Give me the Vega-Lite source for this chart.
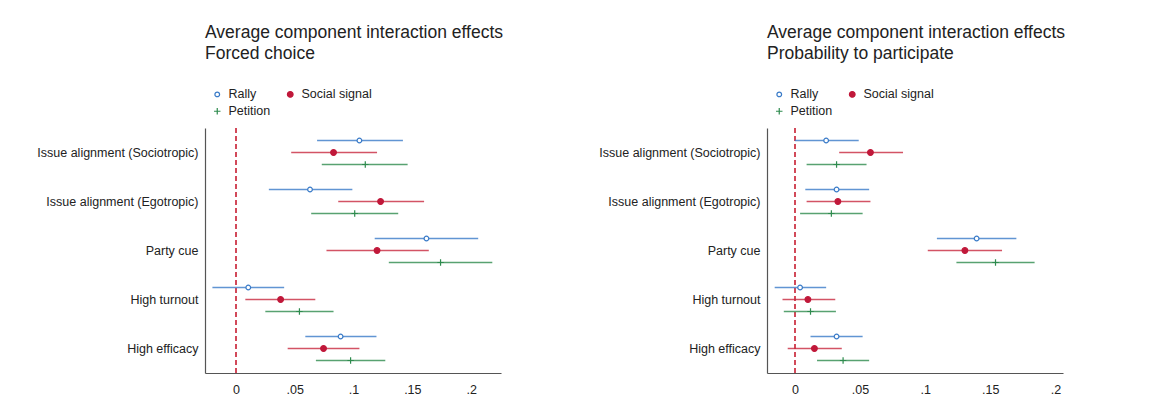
{
  "$schema": "https://vega.github.io/schema/vega-lite/v6.json",
  "background": "white",
  "padding": {"left": 36, "top": 23, "right": 5, "bottom": 5},
  "config": {
    "font": "Liberation Sans",
    "view": {"stroke": null},
    "axis": {
      "domainColor": "#555555",
      "domainWidth": 1.2,
      "ticks": false,
      "grid": false,
      "title": null,
      "labelFont": "Liberation Sans",
      "labelFontSize": 12.5,
      "labelColor": "#222222"
    },
    "axisY": {"labelPadding": 7},
    "axisX": {"labelPadding": 10},
    "legend": {
      "orient": "top",
      "direction": "horizontal",
      "columns": 2,
      "labelFont": "Liberation Sans",
      "labelFontSize": 12.5,
      "labelColor": "#222222",
      "symbolStrokeWidth": 1.2,
      "columnPadding": 13,
      "rowPadding": 4,
      "labelOffset": 5,
      "padding": 6,
      "offset": 4
    },
    "title": {
      "font": "Liberation Sans",
      "fontSize": 17.5,
      "fontWeight": "normal",
      "anchor": "start",
      "frame": "group",
      "color": "#222222",
      "lineHeight": 21,
      "offset": 20
    }
  },
  "datasets": {
    "effects": [
      {"panel": "Forced choice", "attr": "Issue alignment (Sociotropic)", "series": "Rally", "est": 0.105, "lo": 0.069, "hi": 0.142},
      {"panel": "Forced choice", "attr": "Issue alignment (Sociotropic)", "series": "Social signal", "est": 0.083, "lo": 0.047, "hi": 0.120},
      {"panel": "Forced choice", "attr": "Issue alignment (Sociotropic)", "series": "Petition", "est": 0.110, "lo": 0.073, "hi": 0.146},
      {"panel": "Forced choice", "attr": "Issue alignment (Egotropic)", "series": "Rally", "est": 0.063, "lo": 0.028, "hi": 0.099},
      {"panel": "Forced choice", "attr": "Issue alignment (Egotropic)", "series": "Social signal", "est": 0.123, "lo": 0.087, "hi": 0.160},
      {"panel": "Forced choice", "attr": "Issue alignment (Egotropic)", "series": "Petition", "est": 0.101, "lo": 0.064, "hi": 0.138},
      {"panel": "Forced choice", "attr": "Party cue", "series": "Rally", "est": 0.162, "lo": 0.118, "hi": 0.206},
      {"panel": "Forced choice", "attr": "Party cue", "series": "Social signal", "est": 0.120, "lo": 0.077, "hi": 0.164},
      {"panel": "Forced choice", "attr": "Party cue", "series": "Petition", "est": 0.174, "lo": 0.130, "hi": 0.218},
      {"panel": "Forced choice", "attr": "High turnout", "series": "Rally", "est": 0.0105, "lo": -0.020, "hi": 0.041},
      {"panel": "Forced choice", "attr": "High turnout", "series": "Social signal", "est": 0.038, "lo": 0.008, "hi": 0.0675},
      {"panel": "Forced choice", "attr": "High turnout", "series": "Petition", "est": 0.054, "lo": 0.025, "hi": 0.083},
      {"panel": "Forced choice", "attr": "High efficacy", "series": "Rally", "est": 0.089, "lo": 0.059, "hi": 0.1195},
      {"panel": "Forced choice", "attr": "High efficacy", "series": "Social signal", "est": 0.0745, "lo": 0.044, "hi": 0.105},
      {"panel": "Forced choice", "attr": "High efficacy", "series": "Petition", "est": 0.0975, "lo": 0.068, "hi": 0.127},
      {"panel": "Probability to participate", "attr": "Issue alignment (Sociotropic)", "series": "Rally", "est": 0.024, "lo": 0.000, "hi": 0.049},
      {"panel": "Probability to participate", "attr": "Issue alignment (Sociotropic)", "series": "Social signal", "est": 0.058, "lo": 0.034, "hi": 0.083},
      {"panel": "Probability to participate", "attr": "Issue alignment (Sociotropic)", "series": "Petition", "est": 0.032, "lo": 0.009, "hi": 0.055},
      {"panel": "Probability to participate", "attr": "Issue alignment (Egotropic)", "series": "Rally", "est": 0.032, "lo": 0.008, "hi": 0.057},
      {"panel": "Probability to participate", "attr": "Issue alignment (Egotropic)", "series": "Social signal", "est": 0.033, "lo": 0.009, "hi": 0.058},
      {"panel": "Probability to participate", "attr": "Issue alignment (Egotropic)", "series": "Petition", "est": 0.028, "lo": 0.004, "hi": 0.052},
      {"panel": "Probability to participate", "attr": "Party cue", "series": "Rally", "est": 0.1395, "lo": 0.109, "hi": 0.170},
      {"panel": "Probability to participate", "attr": "Party cue", "series": "Social signal", "est": 0.1305, "lo": 0.102, "hi": 0.159},
      {"panel": "Probability to participate", "attr": "Party cue", "series": "Petition", "est": 0.154, "lo": 0.124, "hi": 0.184},
      {"panel": "Probability to participate", "attr": "High turnout", "series": "Rally", "est": 0.004, "lo": -0.0155, "hi": 0.024},
      {"panel": "Probability to participate", "attr": "High turnout", "series": "Social signal", "est": 0.010, "lo": -0.0095, "hi": 0.031},
      {"panel": "Probability to participate", "attr": "High turnout", "series": "Petition", "est": 0.012, "lo": -0.0085, "hi": 0.0315},
      {"panel": "Probability to participate", "attr": "High efficacy", "series": "Rally", "est": 0.032, "lo": 0.012, "hi": 0.052},
      {"panel": "Probability to participate", "attr": "High efficacy", "series": "Social signal", "est": 0.015, "lo": -0.0055, "hi": 0.036},
      {"panel": "Probability to participate", "attr": "High efficacy", "series": "Petition", "est": 0.037, "lo": 0.017, "hi": 0.057}
    ]
  },
  "spacing": 94,
  "resolve": {
    "scale": {"x": "independent", "stroke": "independent", "fill": "independent", "shape": "independent", "size": "independent"},
    "legend": {"stroke": "independent", "fill": "independent", "shape": "independent", "size": "independent"}
  },
  "hconcat": [
    {
      "title": {"text": ["Average component interaction effects", "Forced choice"]},
      "width": 296,
      "height": 245,
      "data": {"name": "effects"},
      "transform": [{"filter": "datum.panel == 'Forced choice'"}],
      "layer": [
        {
          "mark": {"type": "rule", "strokeDash": [5, 3], "color": "#d24a5a", "strokeWidth": 1.1},
          "encoding": {"x": {"datum": 0, "type": "quantitative"}}
        },
        {
          "mark": {"type": "rule", "strokeWidth": 1.4, "opacity": 0.8},
          "encoding": {
            "y": {"field": "attr", "type": "nominal", "sort": ["Issue alignment (Sociotropic)", "Issue alignment (Egotropic)", "Party cue", "High turnout", "High efficacy"], "scale": {"paddingInner": 0, "paddingOuter": 0}, "axis": {"title": null}},
            "yOffset": {"field": "series", "type": "nominal", "sort": ["Rally", "Social signal", "Petition"], "scale": {"paddingInner": 0, "paddingOuter": 0.54}},
            "x": {"field": "lo", "type": "quantitative", "scale": {"domain": [-0.0263, 0.2254], "nice": false, "zero": false}, "axis": {"values": [0, 0.05, 0.1, 0.15, 0.2], "labelExpr": "replace(format(datum.value, '.2~f'), '0.', '.')"}},
            "x2": {"field": "hi"},
            "color": {"condition": [{"test": "datum.series == 'Rally'", "value": "#3a7bc8"}, {"test": "datum.series == 'Social signal'", "value": "#c8283f"}], "value": "#2e8b4e"}
          }
        },
        {
          "mark": {"type": "point", "strokeWidth": 1.2, "opacity": 1},
          "encoding": {
            "y": {"field": "attr", "type": "nominal", "sort": ["Issue alignment (Sociotropic)", "Issue alignment (Egotropic)", "Party cue", "High turnout", "High efficacy"]},
            "yOffset": {"field": "series", "type": "nominal", "sort": ["Rally", "Social signal", "Petition"]},
            "x": {"field": "est", "type": "quantitative"},
            "stroke": {"field": "series", "type": "nominal", "scale": {"domain": ["Rally", "Social signal", "Petition"], "range": ["#3a7bc8", "#c0183a", "#2e8b4e"]}, "legend": {"title": null}},
            "fill": {"field": "series", "type": "nominal", "scale": {"domain": ["Rally", "Social signal", "Petition"], "range": ["white", "#c0183a", "transparent"]}, "legend": {"title": null}},
            "shape": {"field": "series", "type": "nominal", "scale": {"domain": ["Rally", "Social signal", "Petition"], "range": ["circle", "circle", "M-1,0L1,0M0,-1L0,1"]}, "legend": {"title": null}},
            "size": {"field": "series", "type": "nominal", "scale": {"domain": ["Rally", "Social signal", "Petition"], "range": [22, 42, 40]}, "legend": {"title": null}}
          }
        }
      ]
    },
    {
      "title": {"text": ["Average component interaction effects", "Probability to participate"]},
      "width": 296,
      "height": 245,
      "data": {"name": "effects"},
      "transform": [{"filter": "datum.panel == 'Probability to participate'"}],
      "layer": [
        {
          "mark": {"type": "rule", "strokeDash": [5, 3], "color": "#d24a5a", "strokeWidth": 1.1},
          "encoding": {"x": {"datum": 0, "type": "quantitative"}}
        },
        {
          "mark": {"type": "rule", "strokeWidth": 1.4, "opacity": 0.8},
          "encoding": {
            "y": {"field": "attr", "type": "nominal", "sort": ["Issue alignment (Sociotropic)", "Issue alignment (Egotropic)", "Party cue", "High turnout", "High efficacy"], "scale": {"paddingInner": 0, "paddingOuter": 0}, "axis": {"title": null}},
            "yOffset": {"field": "series", "type": "nominal", "sort": ["Rally", "Social signal", "Petition"], "scale": {"paddingInner": 0, "paddingOuter": 0.54}},
            "x": {"field": "lo", "type": "quantitative", "scale": {"domain": [-0.0214, 0.2058], "nice": false, "zero": false}, "axis": {"values": [0, 0.05, 0.1, 0.15, 0.2], "labelExpr": "replace(format(datum.value, '.2~f'), '0.', '.')"}},
            "x2": {"field": "hi"},
            "color": {"condition": [{"test": "datum.series == 'Rally'", "value": "#3a7bc8"}, {"test": "datum.series == 'Social signal'", "value": "#c8283f"}], "value": "#2e8b4e"}
          }
        },
        {
          "mark": {"type": "point", "strokeWidth": 1.2, "opacity": 1},
          "encoding": {
            "y": {"field": "attr", "type": "nominal", "sort": ["Issue alignment (Sociotropic)", "Issue alignment (Egotropic)", "Party cue", "High turnout", "High efficacy"]},
            "yOffset": {"field": "series", "type": "nominal", "sort": ["Rally", "Social signal", "Petition"]},
            "x": {"field": "est", "type": "quantitative"},
            "stroke": {"field": "series", "type": "nominal", "scale": {"domain": ["Rally", "Social signal", "Petition"], "range": ["#3a7bc8", "#c0183a", "#2e8b4e"]}, "legend": {"title": null}},
            "fill": {"field": "series", "type": "nominal", "scale": {"domain": ["Rally", "Social signal", "Petition"], "range": ["white", "#c0183a", "transparent"]}, "legend": {"title": null}},
            "shape": {"field": "series", "type": "nominal", "scale": {"domain": ["Rally", "Social signal", "Petition"], "range": ["circle", "circle", "M-1,0L1,0M0,-1L0,1"]}, "legend": {"title": null}},
            "size": {"field": "series", "type": "nominal", "scale": {"domain": ["Rally", "Social signal", "Petition"], "range": [22, 42, 40]}, "legend": {"title": null}}
          }
        }
      ]
    }
  ]
}
